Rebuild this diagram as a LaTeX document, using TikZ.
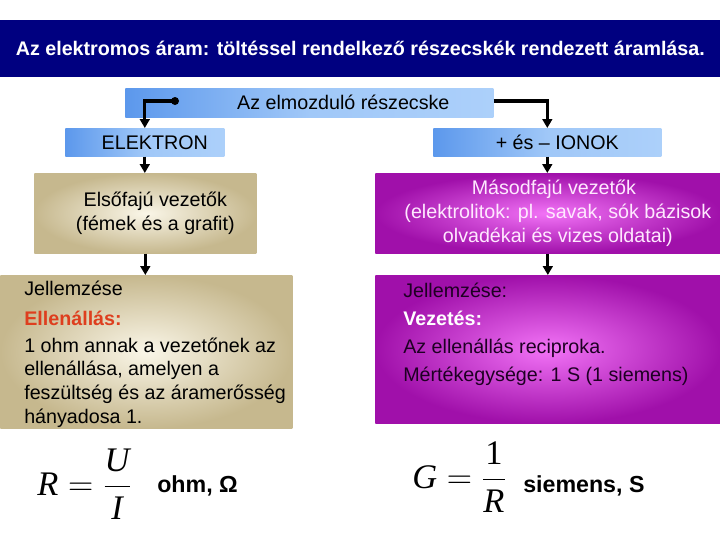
\documentclass[tikz,border=0pt]{standalone}
\usepackage{amsmath}
\usepackage{fontspec}
\setmainfont{Liberation Sans}
\newfontfamily\timesfont{Liberation Serif}
\usepackage{tikz}
\usetikzlibrary{arrows.meta}
\definecolor{titlenavy}{RGB}{0,0,128}
\definecolor{partblue}{RGB}{92,152,236}
\definecolor{partlight}{RGB}{172,208,250}
\definecolor{tanedge}{RGB}{198,184,142}
\definecolor{tanlight}{RGB}{250,246,232}
\definecolor{purpedge}{RGB}{160,16,170}
\definecolor{purplight}{RGB}{242,115,246}
\definecolor{ohmred}{RGB}{222,62,30}
\definecolor{pinkwhite}{RGB}{255,232,255}
\definecolor{darkink}{RGB}{30,0,35}
\tikzset{
  titlebar/.style={fill=titlenavy,text=white,inner sep=0pt,anchor=north west,
    font=\fontsize{14}{16}\selectfont\bfseries},
  bluebox/.style={left color=partblue,right color=partlight,middle color=partlight!85!partblue,
    anchor=north west,inner sep=0pt,minimum height=0.7cm,font=\fontsize{14}{17}\selectfont},
  tanbox/.style={inner color=tanlight,outer color=tanedge,anchor=north west,
    inner sep=0pt,align=center,font=\fontsize{14}{17}\selectfont},
  purpbox/.style={inner color=purplight,outer color=purpedge,anchor=north west,
    inner sep=0pt,align=center,text=pinkwhite,font=\fontsize{14}{17}\selectfont},
  bodytext/.style={anchor=north west,inner sep=0pt,align=left,font=\fontsize{14}{17}\selectfont},
  formula/.style={anchor=base west,inner sep=0pt,font=\fontsize{24.5}{30}\selectfont},
  unit/.style={anchor=base west,inner sep=0pt,font=\fontsize{16.5}{20}\selectfont\bfseries},
  flow/.style={-{Triangle[length=2.2mm,width=2.4mm]},line width=2.2pt,draw=black}
}
\newcommand{\tv}[1]{\hbox{\timesfont\itshape #1}}

\begin{document}
\begin{tikzpicture}[x=0.025cm,y=-0.025cm]
  \useasboundingbox (0,0) rectangle (720,540);
  \node[titlebar,minimum width=18cm,minimum height=1.425cm] (title) at (0,20)
    {Az elektromos áram: töltéssel rendelkező részecskék rendezett áramlása.};
  \node[bluebox,minimum width=9.2cm,minimum height=0.725cm] (part) at (125,88)
    {\hspace*{1.7cm}Az elmozduló részecske};
  \node[bluebox,minimum width=3.975cm] (elek) at (65,128) {\hspace*{0.5cm}ELEKTRON};
  \node[bluebox,minimum width=5.7cm] (ion) at (433,128) {\hspace*{0.5cm}+ és – IONOK};
  \node[tanbox,minimum width=5.55cm,minimum height=2cm] (elso) at (34,173)
    {\hspace*{0.5cm}Elsőfajú vezetők\\\hspace*{0.5cm}(fémek és a grafit)};
  \node[purpbox,minimum width=8.625cm,minimum height=2cm] (maso) at (375,173)
    {\hspace*{0.3cm}Másodfajú vezetők\\\hspace*{0.5cm}(elektrolitok: pl. savak, sók bázisok\\\hspace*{0.5cm}olvadékai és vizes oldatai)};
  \node[tanbox,minimum width=7.3cm,minimum height=3.825cm] (jell) at (0,275) {};
  \node[purpbox,minimum width=8.625cm,minimum height=3.7cm] (vez) at (375,275) {};
  \node[bodytext] (jelltxt) at (24,281)
    {Jellemzése\\[4pt]{\color{ohmred}\bfseries Ellenállás:}\\[2pt]1 ohm annak a vezetőnek az\\ellenállása, amelyen a\\feszültség és az áramerősség\\hányadosa 1.};
  \node[bodytext,text=darkink,font=\fontsize{14}{19.8}\selectfont] (veztxt) at (403,283)
    {Jellemzése:\\{\color{white}\bfseries Vezetés:}\\Az ellenállás reciproka.\\Mértékegysége: 1 S (1 siemens)};
  \node[formula] (fr) at (37,495) {\(\tv{R}=\dfrac{\tv{U}}{\tv{I}}\)};
  \node[unit] (ohm) at (157,492) {ohm, Ω};
  \node[formula] (fg) at (412,488) {\(\tv{G}=\dfrac{\hbox{\timesfont 1}}{\tv{R}}\)};
  \node[unit] (siem) at (523,492) {siemens, S};
  \coordinate (dot) at (175,101);
  \fill (dot) circle (4);
  \draw[flow] (dot) -| (elek.north);
  \draw[flow] (part.east |- dot) -| (ion.north);
  \draw[flow] (elek.south) -- (elek.south |- elso.north);
  \draw[flow] (elso.south) -- (elso.south |- jell.north);
  \draw[flow] (ion.south) -- (ion.south |- maso.north);
  \draw[flow] (maso.south) -- (maso.south |- vez.north);
\end{tikzpicture}
\end{document}
